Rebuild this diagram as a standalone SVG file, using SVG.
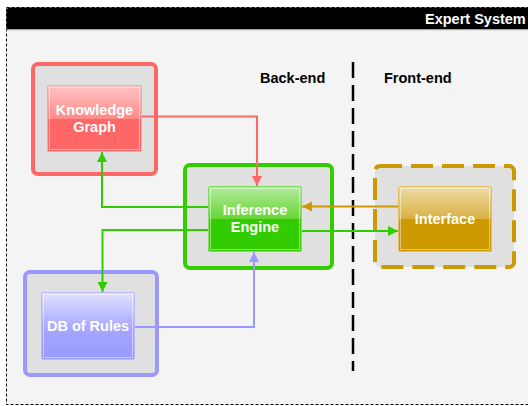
<svg xmlns="http://www.w3.org/2000/svg" width="528" height="406" viewBox="0 0 528 406">
<style>
.lbl{font-family:"Liberation Sans",Arial,sans-serif;font-weight:bold;font-size:14.5px;}
.hdr{font-family:"Liberation Sans",Arial,sans-serif;font-weight:bold;font-size:14.5px;fill:#ffffff;}
.nt{font-family:"Liberation Sans",Arial,sans-serif;font-weight:bold;font-size:14.5px;fill:#ffffff;text-anchor:middle;}
.outer{fill:#e0e0e0;stroke-width:4;}
.conn{fill:none;stroke-width:2;}
.shine{fill:none;stroke:#ffffff;stroke-opacity:0.45;stroke-width:1;}
</style>
<defs>
<linearGradient id="gR" x1="0" y1="0" x2="0" y2="1">
<stop offset="0" stop-color="#ffc4c4"/><stop offset="0.5" stop-color="#ff8a8a"/><stop offset="0.5" stop-color="#ff6666"/><stop offset="1" stop-color="#ff6666"/>
</linearGradient>
<linearGradient id="gG" x1="0" y1="0" x2="0" y2="1">
<stop offset="0" stop-color="#b4eaa0"/><stop offset="0.5" stop-color="#66d633"/><stop offset="0.5" stop-color="#33cc00"/><stop offset="1" stop-color="#33cc00"/>
</linearGradient>
<linearGradient id="gO" x1="0" y1="0" x2="0" y2="1">
<stop offset="0" stop-color="#eedca6"/><stop offset="0.5" stop-color="#d9b044"/><stop offset="0.5" stop-color="#cc9900"/><stop offset="1" stop-color="#cc9900"/>
</linearGradient>
<linearGradient id="gB" x1="0" y1="0" x2="0" y2="1">
<stop offset="0" stop-color="#e2e2ff"/><stop offset="0.55" stop-color="#a6a6ff"/><stop offset="1" stop-color="#9999ff"/>
</linearGradient>
<marker id="aR" markerUnits="userSpaceOnUse" markerWidth="11" markerHeight="11" refX="10" refY="5" orient="auto"><path d="M0,0 L10,5 L0,10 z" fill="#ff6666"/></marker>
<marker id="aG" markerUnits="userSpaceOnUse" markerWidth="11" markerHeight="11" refX="10" refY="5" orient="auto"><path d="M0,0 L10,5 L0,10 z" fill="#33cc00"/></marker>
<marker id="aB" markerUnits="userSpaceOnUse" markerWidth="11" markerHeight="11" refX="10" refY="5" orient="auto"><path d="M0,0 L10,5 L0,10 z" fill="#9999ff"/></marker>
<marker id="aO" markerUnits="userSpaceOnUse" markerWidth="11" markerHeight="11" refX="10" refY="5" orient="auto"><path d="M0,0 L10,5 L0,10 z" fill="#cc9900"/></marker>
</defs>
<rect width="528" height="406" fill="#ffffff"/>
<g id="frame">
<rect x="6.5" y="7.5" width="560" height="397" fill="#f4f4f4" stroke="#000" stroke-width="1" stroke-dasharray="3 2"/>
<path d="M6.5,29.5 V11 Q6.5,7.5 10,7.5 H528 V29.5 Z" fill="#000000"/>
<line x1="6.5" y1="30" x2="528" y2="30" stroke="#cfcfcf" stroke-width="1"/>
<text class="hdr" x="425" y="24">Expert System</text>
</g>
<g id="divider">
<line x1="353" y1="62" x2="353" y2="371" stroke="#000" stroke-width="2.5" stroke-dasharray="16 7"/>
<text class="lbl" x="260" y="83">Back-end</text>
<text class="lbl" x="384" y="83">Front-end</text>
</g>
<g id="knowledge-graph">
<rect class="outer" x="33" y="64" width="123" height="110" rx="5" stroke="#ff6666"/>
<rect x="47.5" y="85.5" width="94" height="66" rx="1.5" fill="url(#gR)" stroke="#ffa3a3"/>
<rect class="shine" x="49.5" y="87.5" width="90" height="62"/>
<text class="nt" x="94.5" y="115">Knowledge</text>
<text class="nt" x="94.5" y="132">Graph</text>
</g>
<g id="inference-engine">
<rect class="outer" x="185" y="165" width="147" height="103" rx="5" stroke="#33cc00"/>
<rect x="208.5" y="186.5" width="93" height="65" rx="1.5" fill="url(#gG)" stroke="#80e060"/>
<rect class="shine" x="210.5" y="188.5" width="89" height="61"/>
<text class="nt" x="255" y="215">Inference</text>
<text class="nt" x="255" y="232">Engine</text>
</g>
<g id="interface">
<rect class="outer" x="375" y="166" width="139" height="101" rx="5" stroke="#cc9900" stroke-dasharray="22 9"/>
<rect x="398.5" y="186.5" width="93" height="65" rx="1.5" fill="url(#gO)" stroke="#e2c060"/>
<rect class="shine" x="400.5" y="188.5" width="89" height="61"/>
<text class="nt" x="445" y="224">Interface</text>
</g>
<g id="db-of-rules">
<rect class="outer" x="25" y="272" width="132" height="103" rx="5" stroke="#9999ff"/>
<rect x="41.5" y="292.5" width="93" height="67" rx="1.5" fill="url(#gB)" stroke="#b8b8ff"/>
<rect class="shine" x="43.5" y="294.5" width="89" height="63"/>
<text class="nt" x="88" y="331">DB of Rules</text>
</g>
<g id="connectors">
<path class="conn" d="M142,116.5 H257 V186" stroke="#ff6666" marker-end="url(#aR)"/>
<path class="conn" d="M208,207 H102 V152" stroke="#33cc00" marker-end="url(#aG)"/>
<path class="conn" d="M208,230 H102.5 V292" stroke="#33cc00" marker-end="url(#aG)"/>
<path class="conn" d="M135,327 H254 V252" stroke="#9999ff" marker-end="url(#aB)"/>
<path class="conn" d="M398,206.5 H302" stroke="#cc9900" marker-end="url(#aO)"/>
<path class="conn" d="M302,231 H398" stroke="#33cc00" marker-end="url(#aG)"/>
</g>
</svg>
